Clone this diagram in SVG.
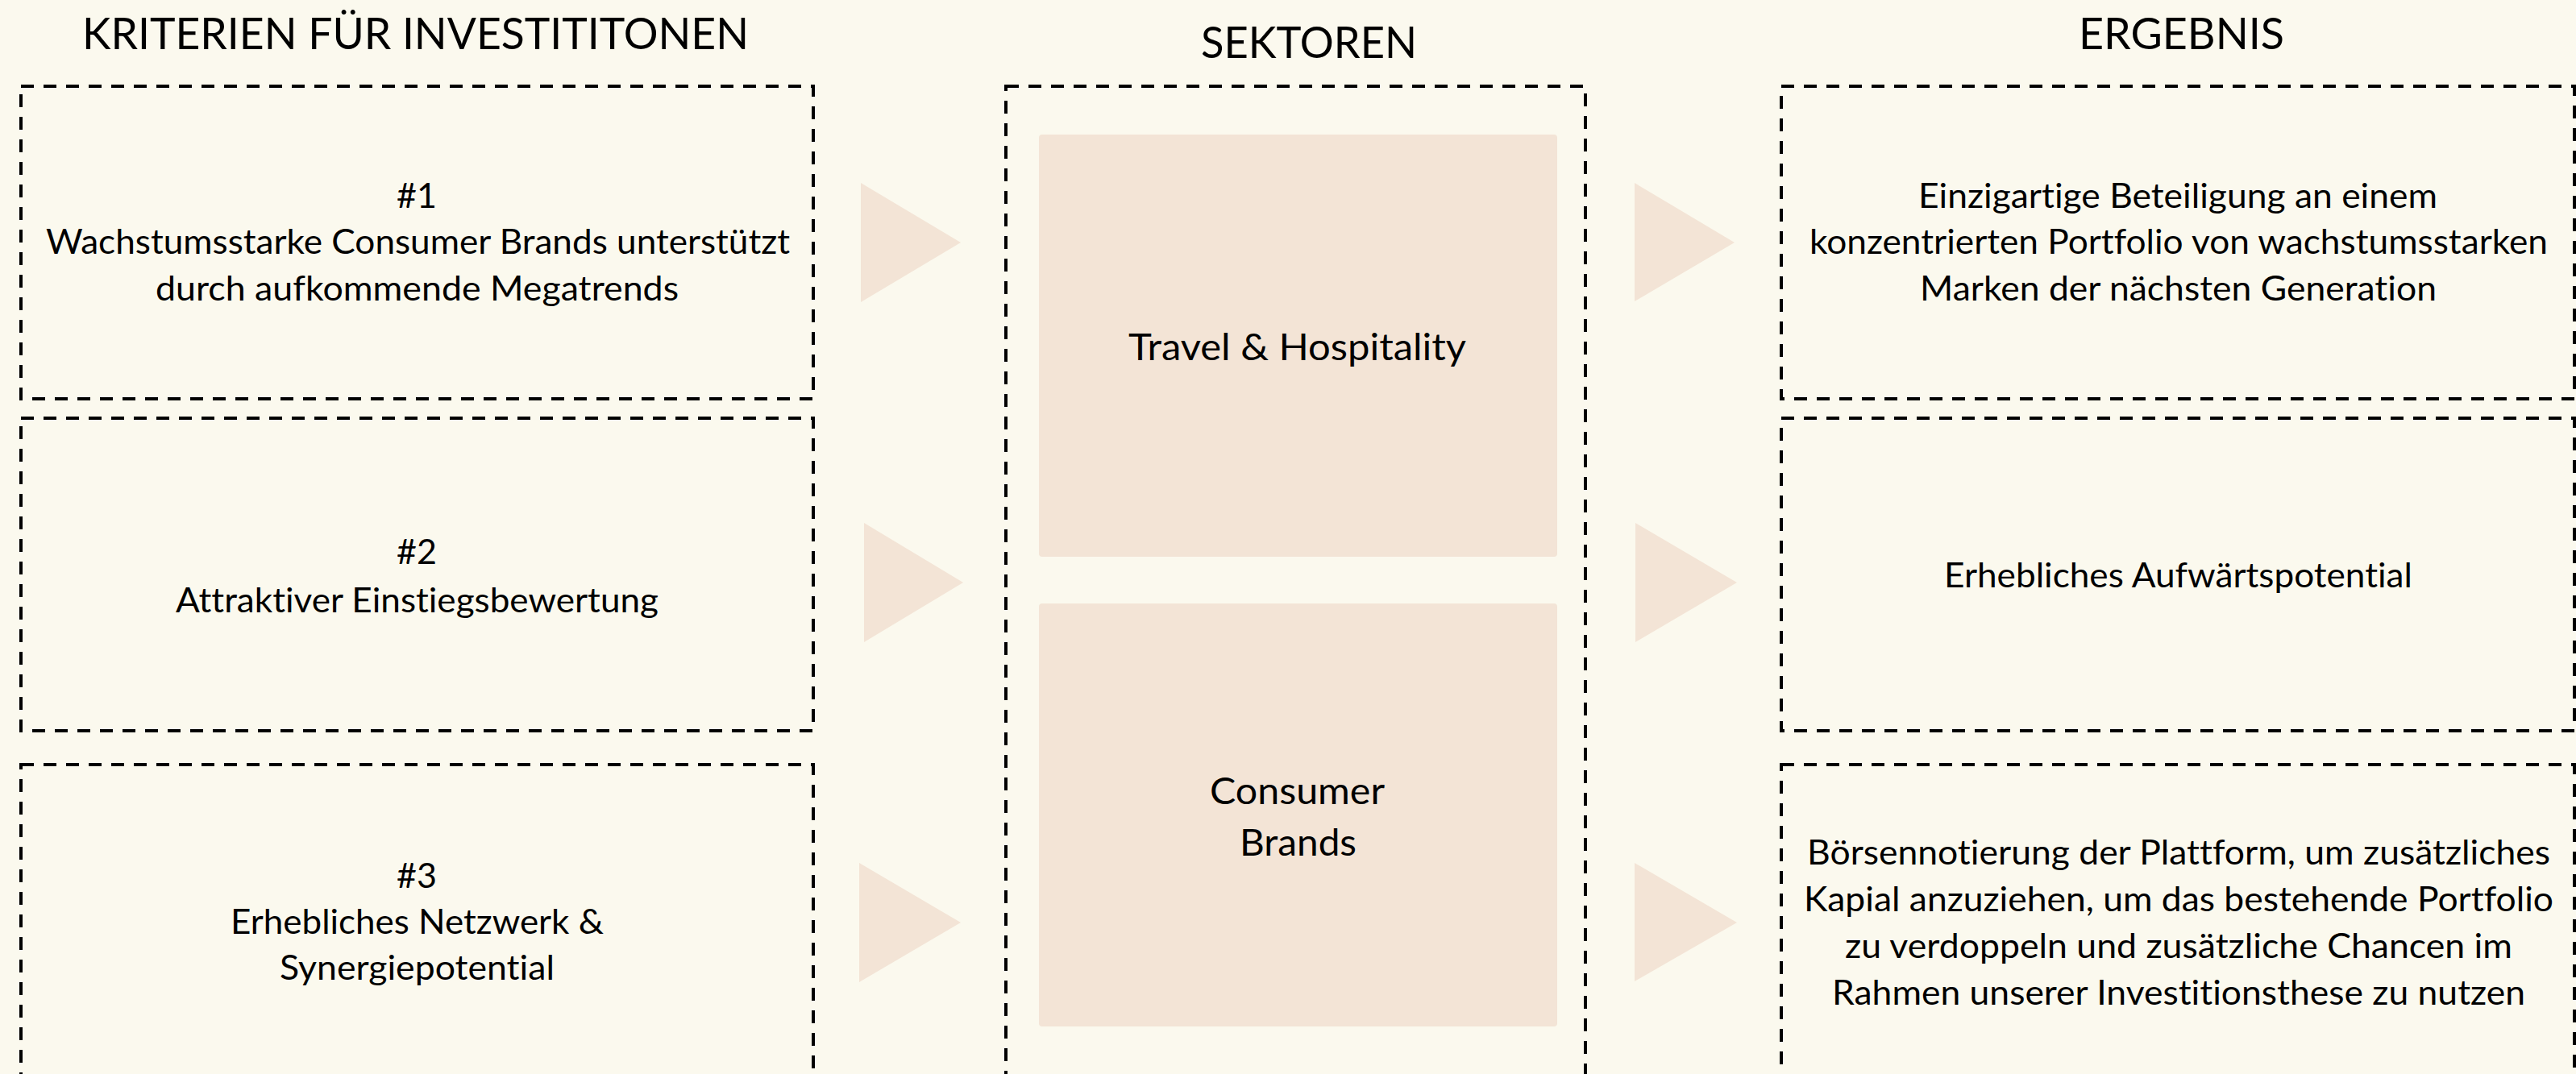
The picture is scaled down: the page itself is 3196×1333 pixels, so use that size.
<svg xmlns="http://www.w3.org/2000/svg" width="3196" height="1333" viewBox="0 0 3196 1333">
<style>
.bg{fill:#FBF9EE}
.dash{fill:none;stroke:#000;stroke-width:4;stroke-dasharray:16 12}
.sector{fill:#F3E4D6}
.arrow{fill:#F3E4D6}
text{font-family:Lato,"Open Sans","Liberation Sans",sans-serif;fill:#000;text-anchor:middle;font-variant-ligatures:none;font-feature-settings:"liga" 0,"dlig" 0}
.title{font-size:54px}
.body{font-size:43px}
.sect{font-size:47px}
</style>
<rect class="bg" x="0" y="0" width="3196" height="1333"/>

<g id="titles">
<text class="title" x="515.5" y="61" textLength="827" lengthAdjust="spacingAndGlyphs">KRITERIEN FÜR INVESTITITONEN</text>
<text class="title" x="1624" y="72" textLength="268" lengthAdjust="spacingAndGlyphs">SEKTOREN</text>
<text class="title" x="2706.5" y="61" textLength="255" lengthAdjust="spacingAndGlyphs">ERGEBNIS</text>
</g>

<g id="criterion1">
<rect class="dash" x="26" y="107" width="983" height="388"/>
<text class="body" x="517" y="258">#1</text>
<text class="body" x="518.5" y="315" textLength="923" lengthAdjust="spacingAndGlyphs">Wachstumsstarke Consumer Brands unterstützt</text>
<text class="body" x="517.5" y="373" textLength="649" lengthAdjust="spacingAndGlyphs">durch aufkommende Megatrends</text>
</g>

<g id="criterion2">
<rect class="dash" x="26" y="519" width="983" height="388"/>
<text class="body" x="517" y="700">#2</text>
<text class="body" x="517.5" y="760" textLength="599" lengthAdjust="spacingAndGlyphs">Attraktiver Einstiegsbewertung</text>
</g>

<g id="criterion3">
<rect class="dash" x="26" y="949" width="983" height="420"/>
<text class="body" x="517" y="1102">#3</text>
<text class="body" x="517.5" y="1159" textLength="463" lengthAdjust="spacingAndGlyphs">Erhebliches Netzwerk &amp;</text>
<text class="body" x="517.5" y="1216" textLength="341" lengthAdjust="spacingAndGlyphs">Synergiepotential</text>
</g>

<g id="sectors">
<rect class="dash" x="1248" y="107" width="719" height="1300"/>
</g>

<g id="sector-travel">
<rect class="sector" x="1289" y="167" width="643" height="524" rx="4"/>
<text class="sect" x="1609.5" y="447" textLength="419" lengthAdjust="spacingAndGlyphs">Travel &amp; Hospitality</text>
</g>

<g id="sector-consumer">
<rect class="sector" x="1289" y="749" width="643" height="525" rx="4"/>
<text class="sect" x="1609.5" y="998" textLength="217" lengthAdjust="spacingAndGlyphs">Consumer</text>
<text class="sect" x="1610.5" y="1062" textLength="145" lengthAdjust="spacingAndGlyphs">Brands</text>
</g>

<g id="result1">
<rect class="dash" x="2210" y="107" width="984" height="388"/>
<text class="body" x="2702" y="258" textLength="644" lengthAdjust="spacingAndGlyphs">Einzigartige Beteiligung an einem</text>
<text class="body" x="2703" y="315" textLength="916" lengthAdjust="spacingAndGlyphs">konzentrierten Portfolio von wachstumsstarken</text>
<text class="body" x="2702.5" y="373" textLength="641" lengthAdjust="spacingAndGlyphs">Marken der nächsten Generation</text>
</g>

<g id="result2">
<rect class="dash" x="2210" y="519" width="984" height="388"/>
<text class="body" x="2702.5" y="729" textLength="581" lengthAdjust="spacingAndGlyphs">Erhebliches Aufwärtspotential</text>
</g>

<g id="result3">
<rect class="dash" x="2210" y="949" width="984" height="420"/>
<text class="body" x="2703" y="1073" textLength="922" lengthAdjust="spacingAndGlyphs">Börsennotierung der Plattform, um zusätzliches</text>
<text class="body" x="2703" y="1131" textLength="930" lengthAdjust="spacingAndGlyphs">Kapial anzuziehen, um das bestehende Portfolio</text>
<text class="body" x="2703" y="1189" textLength="828" lengthAdjust="spacingAndGlyphs">zu verdoppeln und zusätzliche Chancen im</text>
<text class="body" x="2703" y="1247" textLength="860" lengthAdjust="spacingAndGlyphs">Rahmen unserer Investitionsthese zu nutzen</text>
</g>

<g id="connectors">
<polygon class="arrow" points="1068,227 1192,301 1068,375"/>
<polygon class="arrow" points="1072,649 1195,723 1072,797"/>
<polygon class="arrow" points="1066,1071 1192,1145 1066,1219"/>
<polygon class="arrow" points="2028,227 2152,301 2028,374"/>
<polygon class="arrow" points="2029,649 2155,723 2029,797"/>
<polygon class="arrow" points="2028,1071 2155,1145 2028,1218"/>
</g>
</svg>
